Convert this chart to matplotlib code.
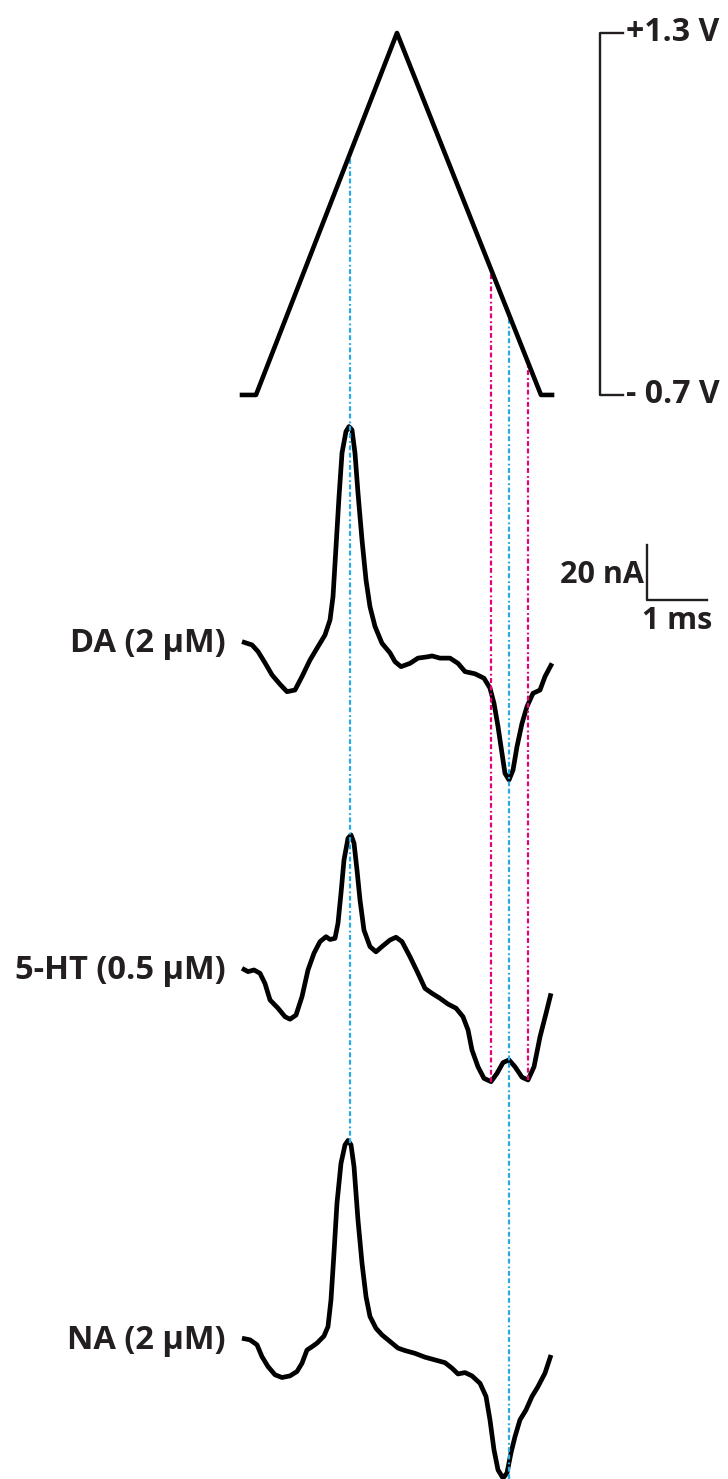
import numpy as np
import matplotlib
matplotlib.use("Agg")
import matplotlib.pyplot as plt

plt.rcParams['font.family'] = ['Open Sans', 'DejaVu Sans']
plt.rcParams['lines.scale_dashes'] = False

# scan waveform (ms, V)
ramp_t = [0.0, 0.233, 2.583, 4.983, 5.167]
ramp_v = [-0.7, -0.7, 1.3, -0.7, -0.7]

# background-subtracted currents (ms, nA)
da_t = [0, 0.167, 0.267, 0.383, 0.5, 0.633, 0.75, 0.883, 1.0, 1.133, 1.267, 1.383,
        1.467, 1.517, 1.567, 1.617, 1.667, 1.733, 1.783, 1.833, 1.883, 1.933, 2.0,
        2.067, 2.133, 2.217, 2.333, 2.467, 2.55, 2.65, 2.8, 2.933, 3.1, 3.167, 3.3,
        3.467, 3.6, 3.717, 3.883, 4.033, 4.133, 4.2, 4.267, 4.333, 4.383, 4.45,
        4.517, 4.583, 4.667, 4.75, 4.85, 4.967, 5.05, 5.167]
da_i = [0, -1.2, -3.6, -7.7, -12.1, -15.5, -18.2, -17.6, -12.7, -6.7, -1.8, 2.4,
        7.9, 16.4, 34.5, 52.7, 68.6, 76.4, 78.2, 77.0, 68.6, 54.1, 37.0,
        22.4, 12.7, 5.5, -0.6, -4.1, -7.3, -9.1, -7.9, -6.0, -5.5, -5.2, -6.0,
        -6.0, -7.9, -10.9, -11.7, -13.3, -16.9, -22.4, -30.9, -40.6, -47.9, -50.3,
        -46.7, -38.2, -29.7, -23.6, -18.8, -17.6, -12.7, -7.9]

ht_t = [0, 0.1, 0.2, 0.3, 0.383, 0.467, 0.6, 0.717, 0.8, 0.9, 1.0, 1.1, 1.2, 1.3,
        1.4, 1.467, 1.55, 1.6, 1.65, 1.7, 1.767, 1.817, 1.867, 1.917, 1.967, 2.033,
        2.133, 2.233, 2.333, 2.467, 2.567, 2.667, 2.8, 2.933, 3.05, 3.167, 3.3,
        3.433, 3.567, 3.683, 3.767, 3.833, 3.933, 4.033, 4.15, 4.25, 4.35, 4.45,
        4.55, 4.667, 4.767, 4.867, 4.967, 5.067, 5.15]
ht_i = [0, -1.2, -0.6, -1.8, -5.5, -11.5, -14.5, -17.6, -18.5, -17.0, -10.3, -0.6,
        5.5, 9.7, 11.5, 10.5, 10.9, 16.4, 27.3, 39.4, 47.3, 48.5, 45.5, 35.7, 24.8,
        13.9, 7.9, 6.0, 7.9, 10.3, 11.3, 9.7, 4.2, -1.8, -7.3, -9.1, -10.9, -13.0,
        -14.5, -17.6, -22.4, -29.7, -35.8, -40.0, -41.2, -38.2, -34.3, -33.3,
        -35.8, -39.6, -40.6, -35.8, -24.9, -16.4, -9.1]

na_t = [0, 0.133, 0.25, 0.333, 0.433, 0.55, 0.667, 0.8, 0.917, 1.0, 1.083, 1.167,
        1.25, 1.367, 1.433, 1.483, 1.533, 1.583, 1.65, 1.717, 1.767, 1.817, 1.867,
        1.933, 2.0, 2.067, 2.133, 2.233, 2.333, 2.467, 2.6, 2.717, 2.883, 3.05,
        3.217, 3.383, 3.5, 3.6, 3.717, 3.833, 3.967, 4.067, 4.133, 4.2, 4.267,
        4.35, 4.417, 4.483, 4.55, 4.633, 4.733, 4.833, 4.933, 5.05, 5.15]
na_i = [0, -0.6, -2.4, -6.7, -10.3, -13.3, -14.3, -13.7, -12.1, -9.1, -4.3, -3.1,
        -1.8, 0.8, 4.2, 13.9, 30.9, 49.1, 63.6, 70.3, 71.9, 70.3, 62.4, 43.0, 27.3,
        15.1, 7.9, 3.6, 1.2, -1.2, -3.6, -4.5, -5.5, -6.9, -7.9, -8.9, -10.9, -13.0,
        -12.5, -13.7, -16.4, -21.2, -29.7, -40.6, -47.9, -50.9, -49.0, -41.7, -35.8,
        -29.7, -26.1, -21.2, -17.6, -12.7, -6.1]

labels = ['DA (2 µM)', '5-HT (0.5 µM)', 'NA (2 µM)']
offsets = [304.5, 185.7, 51.2]   # vertical stacking of the traces, nA

# oxidation / reduction markers (ms)
ox_t = 1.8
red_t = 4.458
ht_red_t = [4.15, 4.77]

blue = '#29ABE2'
pink = '#E6007E'
ink = '#231F20'
dash = (0, (3.5, 1.8, 3.5, 1.8, 1.3, 2.2))

fig = plt.figure(figsize=(7.28, 14.79), dpi=100)
ax = fig.add_axes([0, 0, 1, 1])
ax.set_xlim(-4.0333, 8.1)
ax.set_ylim(0, 537.82)
ax.axis('off')

axv = fig.add_axes([0, 0, 1, 1], sharex=ax)
axv.set_ylim(-6.689, 1.482)
axv.axis('off')
axv.patch.set_alpha(0)

axv.plot(ramp_t, ramp_v, color='black', lw=3.3, solid_joinstyle='round')

traces = [(da_t, da_i), (ht_t, ht_i), (na_t, na_i)]
for (t, i), lab, off in zip(traces, labels, offsets):
    ax.plot(t, np.array(i) + off, color='black', lw=3.4,
            solid_joinstyle='round', solid_capstyle='butt')
    ax.text(-0.27, off - 0.8, lab, ha='right', va='center', fontsize=23.5,
            fontweight='bold', color=ink)


def v_to_nA(t, v):
    # map a point of the voltage axes into the current axes
    disp = axv.transData.transform((t, v))
    return ax.transData.inverted().transform(disp)[1]


def guide(t, bottom, color):
    top = v_to_nA(t, np.interp(t, ramp_t[2:], ramp_v[2:]) if t > ramp_t[2]
                  else np.interp(t, ramp_t[:3], ramp_v[:3]))
    ax.plot([t, t], [bottom, top], color=color, lw=1.6, linestyle=dash, zorder=5)


guide(ox_t, np.interp(ox_t, na_t, na_i) + offsets[2], blue)
guide(red_t, 0, blue)
for tt in ht_red_t:
    guide(tt, np.interp(tt, ht_t, ht_i) + offsets[1], pink)

# potential bracket
axv.plot([6.35, 5.967, 5.967, 6.35], [1.3, 1.3, -0.7, -0.7], color=ink, lw=1.7)
axv.text(6.4, 1.3, '+1.3 V', ha='left', va='center', fontsize=23,
         fontweight='bold', color=ink)
axv.text(6.4, -0.7, '- 0.7 V', ha='left', va='center', fontsize=23,
         fontweight='bold', color=ink)

# current / time scale bar
sb_x, sb_y = 6.75, 319.6
ax.plot([sb_x, sb_x, sb_x + 1.0], [sb_y + 20, sb_y, sb_y], color=ink, lw=1.7)
ax.text(sb_x - 0.05, sb_y + 9, '20 nA', ha='right', va='center', fontsize=22,
        fontweight='bold', color=ink)
ax.text(sb_x + 0.5, sb_y - 7.5, '1 ms', ha='center', va='center', fontsize=22,
        fontweight='bold', color=ink)

fig.savefig('out.png', dpi=100)
